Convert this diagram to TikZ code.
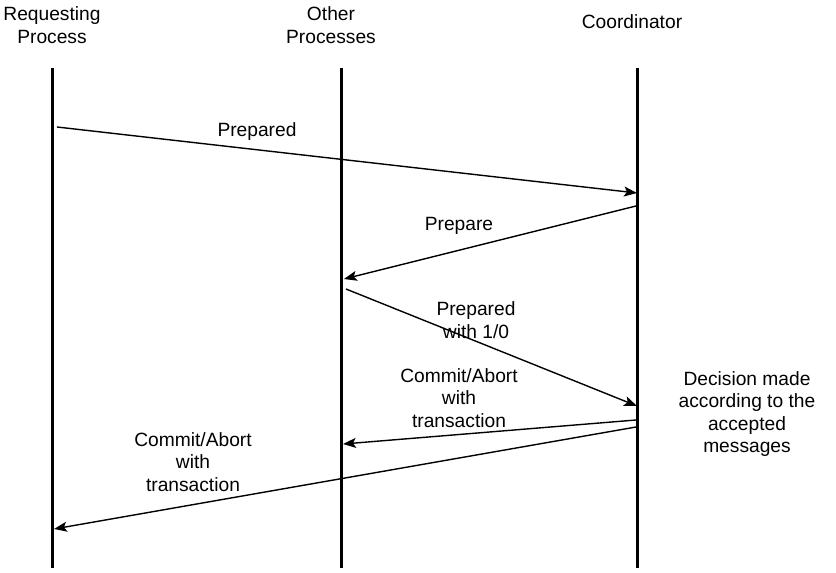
\documentclass[tikz,border=0pt]{standalone}
\usepackage{fontspec}
\setmainfont{Liberation Sans}
\usetikzlibrary{arrows.meta}
\begin{document}
\begin{tikzpicture}[x=1pt,y=-1pt,
  lifeline/.style={line width=3pt},
  msg/.style={line width=1.4pt,-{Stealth[length=13pt,width=10pt,inset=3pt]}},
  lbl/.style={font=\fontsize{19.2}{22.5}\selectfont,align=center,inner sep=0pt},
]
\useasboundingbox (0,0) rectangle (836,573);
% headers
\node[lbl] (hreq) at (52,25) {Requesting\\Process};
\node[lbl] (hoth) at (331,25) {Other\\Processes};
\node[lbl] (hco) at (632,22) {Coordinator};
% lifelines
\coordinate (rt) at (52,68); \coordinate (rb) at (52,568);
\coordinate (ot) at (341,68); \coordinate (ob) at (341,568);
\coordinate (ct) at (637,68); \coordinate (cb) at (637,568);
\draw[lifeline] (rt) -- (rb);
\draw[lifeline] (ot) -- (ob);
\draw[lifeline] (ct) -- (cb);
% message endpoints
\coordinate (m1a) at (57,127); \coordinate (m1b) at (637,193);
\coordinate (m2a) at (636,206); \coordinate (m2b) at (344,279);
\coordinate (m3a) at (346,289); \coordinate (m3b) at (637,406);
\coordinate (m4a) at (636,420); \coordinate (m4b) at (343,444);
\coordinate (m5a) at (636,427); \coordinate (m5b) at (54,529);
\draw[msg] (m1a) -- (m1b);
\draw[msg] (m2a) -- (m2b);
\draw[msg] (m3a) -- (m3b);
\draw[msg] (m4a) -- (m4b);
\draw[msg] (m5a) -- (m5b);
% labels
\node[lbl] (l1) at (257,132) {Prepared};
\node[lbl] (l2) at (459,226) {Prepare};
\node[lbl] (l3) at (476,320) {Prepared\\with 1/0};
\node[lbl] (l4) at (459,398) {Commit/Abort\\with\\transaction};
\node[lbl] (l5) at (193,462) {Commit/Abort\\with\\transaction};
\node[lbl] (dec) at (747,414) {Decision made\\according to the\\accepted\\messages};
\end{tikzpicture}
\end{document}
